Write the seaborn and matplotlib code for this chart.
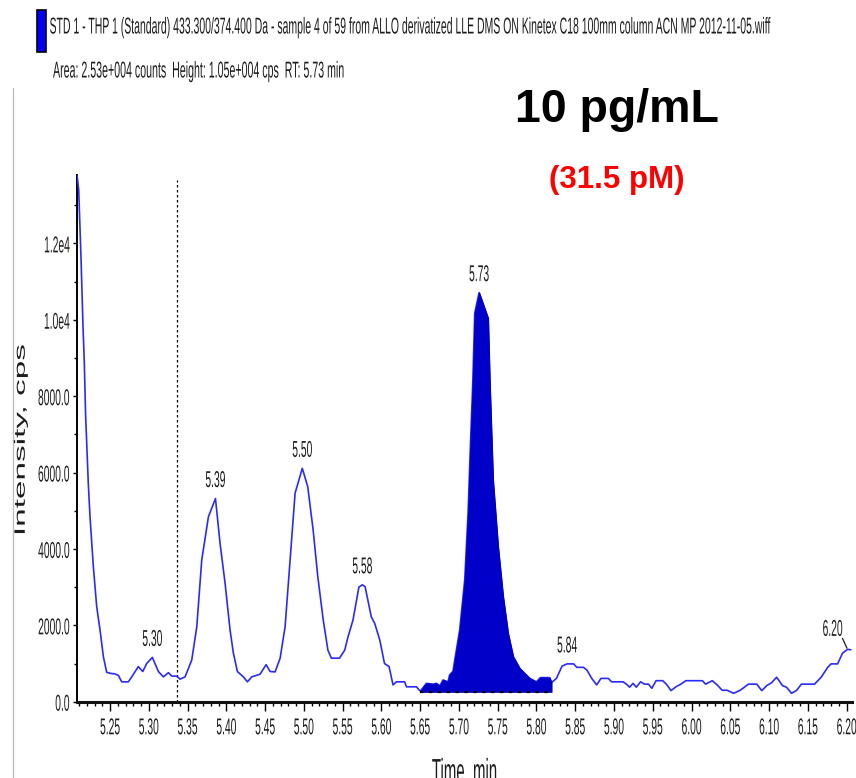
import numpy as np
import pandas as pd
import matplotlib
matplotlib.use("Agg")
import matplotlib.pyplot as plt
from matplotlib import font_manager
from matplotlib.patheffects import AbstractPathEffect
from matplotlib.transforms import Affine2D, Bbox
from matplotlib.ticker import MultipleLocator, FixedLocator
import seaborn as sns

# ---- chromatogram trace (time in min, intensity in cps) ----
time_min = [
    5.2074, 5.2096, 5.2126, 5.2152, 5.2168, 5.2185, 5.2207, 5.2220, 5.2242, 5.2285,
    5.2328, 5.2371, 5.2414, 5.2457, 5.2510, 5.2560, 5.2607, 5.2651, 5.2736, 5.2780,
    5.2865, 5.2922, 5.2973, 5.3046, 5.3124, 5.3188, 5.3253, 5.3296, 5.3360, 5.3403,
    5.3468, 5.3554, 5.3619, 5.3683, 5.3769, 5.3860, 5.3919, 5.3984, 5.4048, 5.4091,
    5.4143, 5.4220, 5.4272, 5.4328, 5.4435, 5.4513, 5.4565, 5.4629, 5.4694, 5.4758,
    5.4823, 5.4887, 5.4980, 5.5050, 5.5120, 5.5180, 5.5250, 5.5310, 5.5355, 5.5460,
    5.5527, 5.5570, 5.5634, 5.5710, 5.5755, 5.5790, 5.5830, 5.5870, 5.5914, 5.5980,
    5.6040, 5.6099, 5.6150, 5.6194, 5.6300, 5.6323, 5.6452, 5.6494, 5.6503, 5.6580,
    5.6666, 5.6710, 5.6752, 5.6795, 5.6817, 5.6859, 5.6880, 5.6924, 5.6946, 5.7010,
    5.7075, 5.7118, 5.7148, 5.7180, 5.7204, 5.7260, 5.7376, 5.7397, 5.7440, 5.7505,
    5.7570, 5.7634, 5.7700, 5.7785, 5.7914, 5.8000, 5.8050, 5.8170, 5.8194, 5.8258,
    5.8330, 5.8394, 5.8480, 5.8520, 5.8607, 5.8650, 5.8713, 5.8777, 5.8832, 5.8927,
    5.8969, 5.9118, 5.9160, 5.9202, 5.9246, 5.9288, 5.9343, 5.9394, 5.9445, 5.9488,
    5.9543, 5.9629, 5.9684, 5.9735, 5.9799, 5.9863, 5.9927, 6.0140, 6.0182, 6.0268,
    6.0331, 6.0395, 6.0459, 6.0543, 6.0629, 6.0735, 6.0842, 6.0906, 6.0970, 6.1034,
    6.1098, 6.1174, 6.1225, 6.1289, 6.1353, 6.1417, 6.1587, 6.1672, 6.1757, 6.1800,
    6.1884, 6.1948, 6.2012, 6.2055,
]
intensity_cps = [
    13800, 13400, 11600, 9800, 8900, 7500, 6400, 5700, 4840, 3530,
    2490, 1880, 1180, 770, 740, 730, 690, 520, 520, 650,
    920, 790, 1000, 1160, 790, 650, 760, 670, 670, 590,
    650, 1090, 1960, 3710, 4840, 5320, 4150, 3100, 1880, 1270,
    790, 650, 520, 650, 720, 970, 790, 780, 1140, 1960,
    3710, 5460, 6110, 5630, 4490, 3270, 2140, 1350, 1140, 1140,
    1350, 1700, 2140, 3000, 3060, 3010, 2620, 2220, 2050, 1610,
    1000, 920, 440, 520, 520, 390, 390, 290, 280, 480,
    460, 480, 410, 570, 550, 520, 700, 800, 1090, 1880,
    3190, 4930, 6680, 8420, 10170, 10710, 10040, 8420, 5800, 4060,
    2750, 1790, 1180, 870, 610, 520, 630, 630, 500, 610,
    930, 990, 990, 900, 900, 830, 610, 440, 610, 610,
    520, 520, 460, 380, 480, 380, 520, 460, 460, 350,
    550, 550, 440, 290, 390, 460, 550, 550, 460, 550,
    440, 300, 300, 220, 300, 460, 460, 290, 420, 500,
    640, 420, 380, 220, 290, 460, 460, 640, 900, 990,
    990, 1270, 1370, 1360,
]

# integrated analyte window and its baseline
integ_start, integ_end = 5.6503, 5.8194
integ_baseline = 260

# labelled apexes
apex_times = [5.3046, 5.3860, 5.4980, 5.5755, 5.7260, 5.8394, 6.2012]

# axis ticks
y_ticks = [0, 2000, 4000, 6000, 8000, 10000, 12000]
y_tick_labels = ["0.0", "2000.0", "4000.0", "6000.0", "8000.0", "1.0e4", "1.2e4"]
x_ticks = [5.25, 5.30, 5.35, 5.40, 5.45, 5.50, 5.55, 5.60, 5.65, 5.70, 5.75,
           5.80, 5.85, 5.90, 5.95, 6.00, 6.05, 6.10, 6.15, 6.20]
x_tick_labels = [f"{v:.2f}" for v in x_ticks]

cursor_time = 5.3365

header_line1 = ("STD 1 - THP 1 (Standard) 433.300/374.400 Da - sample 4 of 59 from ALLO "
                "derivatized LLE DMS ON Kinetex C18 100mm column ACN MP 2012-11-05.wiff")
header_line2 = "Area: 2.53e+004 counts  Height: 1.05e+004 cps  RT: 5.73 min"
conc_text = "10 pg/mL"
molar_text = "(31.5 pM)"


class Squeeze(AbstractPathEffect):
    """Scale the glyph outlines of a text about an anchor (condensed look)."""

    def __init__(self, sx=1.0, sy=1.0, anchor="center"):
        super().__init__()
        self.sx, self.sy, self.anchor = sx, sy, anchor

    def draw_path(self, renderer, gc, tpath, affine, rgbFace=None):
        ext = tpath.get_extents()
        if self.anchor == "right":
            cx = ext.x1
        elif self.anchor == "left":
            cx = ext.x0
        else:
            cx = 0.5 * (ext.x0 + ext.x1)
        cy = 0.5 * (ext.y0 + ext.y1)
        squeeze = Affine2D().translate(-cx, -cy).scale(self.sx, self.sy).translate(cx, cy)
        renderer.draw_path(gc, tpath, squeeze + affine, rgbFace)


def condense(text, factor, anchor="center", rotated=False):
    """Draw a text condensed horizontally on screen and report the narrower box."""
    if rotated:
        text.set_path_effects([Squeeze(sy=factor, anchor=anchor)])
    else:
        text.set_path_effects([Squeeze(sx=factor, anchor=anchor)])
    full_extent = text.get_window_extent

    def narrow_extent(renderer=None, dpi=None):
        bb = full_extent(renderer, dpi)
        w = bb.width * factor
        if anchor == "right":
            x0 = bb.x1 - w
        elif anchor == "left":
            x0 = bb.x0
        else:
            x0 = 0.5 * (bb.x0 + bb.x1) - 0.5 * w
        return Bbox.from_bounds(x0, bb.y0, w, bb.height)

    text.get_window_extent = narrow_extent


installed = {f.name for f in font_manager.fontManager.ttflist}
regular = "Liberation Sans" if "Liberation Sans" in installed else "DejaVu Sans"

sns.set_theme(style="ticks")
plt.rcParams["font.family"] = [regular, "DejaVu Sans"]

SMALL = 16.5      # small annotation font size
NARROW = 0.45     # horizontal condensing of the small text
INK = "#1c1c1c"

W, H = 856, 778
fig = plt.figure(figsize=(W / 100, H / 100), dpi=100)
fig.patch.set_facecolor("white")


def fx(px):
    return px / W


def fy(py):
    return 1 - py / H


ax = fig.add_axes([fx(77), fy(701.7), fx(852) - fx(77), fy(175) - fy(701.7)])
ax.set_facecolor("white")

df = pd.DataFrame({"Time, min": time_min, "Intensity, cps": intensity_cps})
sns.lineplot(data=df, x="Time, min", y="Intensity, cps", ax=ax,
             color="#2a2aff", linewidth=1.2, zorder=3)

t = np.asarray(time_min)
v = np.asarray(intensity_cps, dtype=float)
mask = (t >= integ_start) & (t <= integ_end)
ax.fill_between(t[mask], integ_baseline, v[mask], color="#0000c8",
                linewidth=0.8, edgecolor="#0000c8", zorder=4)
ax.plot([integ_start, integ_end], [integ_baseline, integ_baseline],
        color="black", linestyle=(0, (1.5, 2.5)), linewidth=1.6, zorder=5)

ax.set_xlim(5.2074, 6.207)
ax.set_ylim(0, 13790)

ax.axvline(cursor_time, ymin=0, ymax=0.99, color="black",
           linestyle=(0, (2, 2)), linewidth=0.9, zorder=2)

# peak labels from apex points
for at in apex_times:
    av = float(np.interp(at, t, v))
    if at > 6.19:
        txt = ax.annotate(f"{at:.2f}", xy=(at, av), xytext=(-15, 20),
                          textcoords="offset pixels", ha="center", va="center",
                          fontsize=SMALL, color=INK)
        ax.annotate("", xy=(at, av), xytext=(-5, 11), textcoords="offset pixels",
                    arrowprops=dict(arrowstyle="-", color=INK, lw=0.9,
                                    shrinkA=0, shrinkB=1))
    else:
        txt = ax.annotate(f"{at:.2f}", xy=(at, av), xytext=(0, 18),
                          textcoords="offset pixels", ha="center", va="center",
                          fontsize=SMALL, color=INK)
    condense(txt, NARROW)

# axes styling
for side in ("top", "right"):
    ax.spines[side].set_visible(False)
ax.spines["left"].set_color("black")
ax.spines["left"].set_linewidth(1.4)
ax.spines["bottom"].set_color("#111111")
ax.spines["bottom"].set_linewidth(2.2)

ax.yaxis.set_major_locator(FixedLocator(y_ticks))
ax.set_yticklabels(y_tick_labels)
ax.yaxis.set_minor_locator(MultipleLocator(1000))
ax.xaxis.set_major_locator(FixedLocator(x_ticks))
ax.set_xticklabels(x_tick_labels)
ax.xaxis.set_minor_locator(MultipleLocator(0.01))

ax.tick_params(axis="y", which="major", direction="out", length=3, width=1.0,
               color="black", pad=2, labelsize=SMALL, labelcolor=INK)
ax.tick_params(axis="y", which="minor", direction="out", length=2.2, width=1.0,
               color="black")
ax.tick_params(axis="x", which="major", direction="out", length=6.5, width=1.0,
               color="black", pad=4, labelsize=SMALL, labelcolor=INK)
ax.tick_params(axis="x", which="minor", direction="out", length=3, width=1.0,
               color="black")
for lab in ax.get_xticklabels():
    condense(lab, NARROW)
for lab in ax.get_yticklabels():
    condense(lab, NARROW, anchor="right")

ax.set_xlabel("")
ax.set_ylabel("")
ylab = fig.text(fx(21), fy(440), "Intensity, cps", rotation=90, ha="center",
                va="center", fontsize=24, color=INK)
condense(ylab, NARROW, rotated=True)
xlab = fig.text(fx(465), fy(758), "Time, min", ha="center", va="top",
                fontsize=24, color=INK)
condense(xlab, NARROW)

# header
fig.add_artist(plt.Rectangle((fx(37), fy(52)), fx(46) - fx(37), fy(10) - fy(52),
                             transform=fig.transFigure, facecolor="#0000ff",
                             edgecolor="black", linewidth=1.2))
h1 = fig.text(fx(49), fy(27), header_line1, ha="left", va="center",
              fontsize=SMALL, color=INK)
h2 = fig.text(fx(53), fy(71), header_line2, ha="left", va="center",
              fontsize=SMALL, color=INK)
fig.add_artist(plt.Line2D([fx(12.7), fx(12.7)], [fy(88), fy(778)],
                          transform=fig.transFigure, color="#c0c0c0", linewidth=1.0))

renderer = fig.canvas.get_renderer()
for artist, target_px in ((h1, 720), (h2, 291)):
    natural = artist.get_window_extent(renderer).width
    condense(artist, target_px / natural, anchor="left")

fig.text(fx(617), fy(110), conc_text, ha="center", va="center", fontsize=33.5,
         fontweight="bold", color="black")
fig.text(fx(617), fy(180), molar_text, ha="center", va="center", fontsize=22.5,
         fontweight="bold", color="#ff0000")

fig.savefig("out.png", dpi=100, facecolor="white")
